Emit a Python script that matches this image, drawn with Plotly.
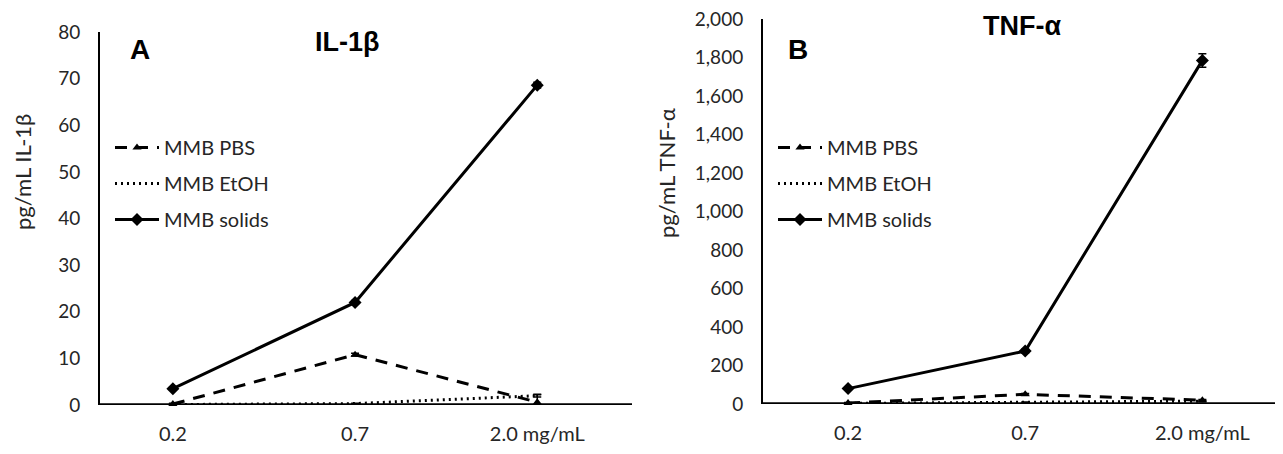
import plotly.graph_objects as go

categories = ["0.2", "0.7", "2.0 mg/mL"]

il1b_pbs = [0.2, 10.8, 0.6]
il1b_pbs_err = [0.2, 0.3, 1.6]
il1b_etoh = [0.1, 0.3, 2.0]
il1b_etoh_err = [0.1, 0.1, 0.3]
il1b_solids = [3.5, 22.0, 68.6]
il1b_solids_err = [0.3, 0.4, 0.6]

tnf_pbs = [5, 50, 20]
tnf_pbs_err = [3, 5, 4]
tnf_etoh = [3, 8, 15]
tnf_etoh_err = [2, 2, 3]
tnf_solids = [80, 275, 1785]
tnf_solids_err = [6, 10, 35]

il1b_ticks = [0, 10, 20, 30, 40, 50, 60, 70, 80]
tnf_ticks = list(range(0, 2001, 200))

# page has an 8px body margin; figure sized to fit inside the 1283x454 window
OFF = 8
W, H = 1283 - 2 * OFF, 454 - 2 * OFF
FONT = "Lato, 'Open Sans', sans-serif"
TXT = "#262626"

fig = go.Figure()

series_style = [
    ("MMB PBS", dict(width=3, dash="12px,9px", color="black"), dict(symbol="triangle-up", size=8, color="black"), "lines+markers"),
    ("MMB EtOH", dict(width=3, dash="2px,4px", color="black"), dict(symbol="circle", size=1, color="black"), "lines"),
    ("MMB solids", dict(width=3, color="black"), dict(symbol="diamond", size=10, color="black"), "lines+markers"),
]

left = [(il1b_pbs, il1b_pbs_err), (il1b_etoh, il1b_etoh_err), (il1b_solids, il1b_solids_err)]
right = [(tnf_pbs, tnf_pbs_err), (tnf_etoh, tnf_etoh_err), (tnf_solids, tnf_solids_err)]

for i, ((name, line, marker, mode), (vals, err)) in enumerate(zip(series_style, left)):
    fig.add_trace(go.Scatter(
        x=list(range(len(categories))), y=vals, name=name, mode=mode,
        line=line, marker=marker, cliponaxis=False,
        error_y=dict(type="data", array=err, color="black", thickness=1.5, width=4),
        xaxis="x", yaxis="y", legend="legend", legendgroup=f"l{i}",
    ))

for i, ((name, line, marker, mode), (vals, err)) in enumerate(zip(series_style, right)):
    fig.add_trace(go.Scatter(
        x=list(range(len(categories))), y=vals, name=name, mode=mode,
        line=line, marker=marker, cliponaxis=False,
        error_y=dict(type="data", array=err, color="black", thickness=1.5, width=4),
        xaxis="x2", yaxis="y2", legend="legend2", legendgroup=f"r{i}",
    ))

def px(x):
    return min(1.0, (x - OFF) / W)

def py(y):
    return 1 - (y - OFF) / H

xcommon = dict(
    tickmode="array", tickvals=list(range(len(categories))), ticktext=categories,
    showgrid=False, zeroline=False, showline=False, automargin=False,
    ticks="outside", ticklen=11, tickcolor="rgba(0,0,0,0)",
    tickfont=dict(family=FONT, size=20, color=TXT),
    ticklabeloverflow="allow",
    fixedrange=True,
)
ycommon = dict(
    showgrid=False, zeroline=False, showline=True, linecolor="black", linewidth=2,
    automargin=False,
    ticks="outside", ticklen=14, tickcolor="rgba(0,0,0,0)",
    tickfont=dict(family=FONT, size=19, color=TXT),
    ticklabeloverflow="allow",
    fixedrange=True,
)

legend_common = dict(
    xanchor="left", yanchor="top",
    font=dict(family=FONT, size=20, color=TXT), bgcolor="rgba(0,0,0,0)",
    tracegroupgap=7, itemwidth=44, traceorder="grouped",
)

fig.update_layout(
    width=W, height=H,
    margin=dict(l=0, r=0, t=0, b=0, autoexpand=False),
    paper_bgcolor="white", plot_bgcolor="white",
    showlegend=True,
    xaxis=dict(domain=[px(100), px(632)], range=[-0.4, 2.52], anchor="y", **xcommon),
    yaxis=dict(domain=[py(405), py(32)], range=[0, 80], tickvals=il1b_ticks, anchor="x", **ycommon),
    xaxis2=dict(domain=[px(763), 1.0], range=[-0.48, 2.41], anchor="y2", **xcommon),
    yaxis2=dict(domain=[py(404), py(19)], range=[0, 2000], tickvals=tnf_ticks, tickformat=",d", anchor="x2", **ycommon),
    legend=dict(x=px(110), y=py(128), **legend_common),
    legend2=dict(x=px(773), y=py(128), **legend_common),
)

fig.add_shape(type="line", xref="paper", yref="y", x0=px(99), x1=px(632), y0=0, y1=0,
              line=dict(color="black", width=3.5), layer="below")
fig.add_shape(type="line", xref="paper", yref="y2", x0=px(762), x1=1.0, y0=0, y1=0,
              line=dict(color="black", width=3.5), layer="below")

annos = [
    dict(text="<b>A</b>", x=px(140), y=py(50), font=dict(family="Arial", size=28, color="black")),
    dict(text="<b>IL-1β</b>", x=px(347), y=py(42), font=dict(family="Arial", size=27, color="black")),
    dict(text="<b>B</b>", x=px(798), y=py(50), font=dict(family="Arial", size=28, color="black")),
    dict(text="<b>TNF-α</b>", x=px(1022), y=py(26), font=dict(family="Arial", size=27, color="black")),
    dict(text="pg/mL IL-1β", x=px(22), y=py(172), textangle=-90, font=dict(family=FONT, size=22, color=TXT)),
    dict(text="pg/mL TNF-α", x=px(667), y=py(173), textangle=-90, font=dict(family=FONT, size=22, color=TXT)),
]
for a in annos:
    fig.add_annotation(xref="paper", yref="paper", showarrow=False, xanchor="center", yanchor="middle", **a)

fig.write_html("out.html")
